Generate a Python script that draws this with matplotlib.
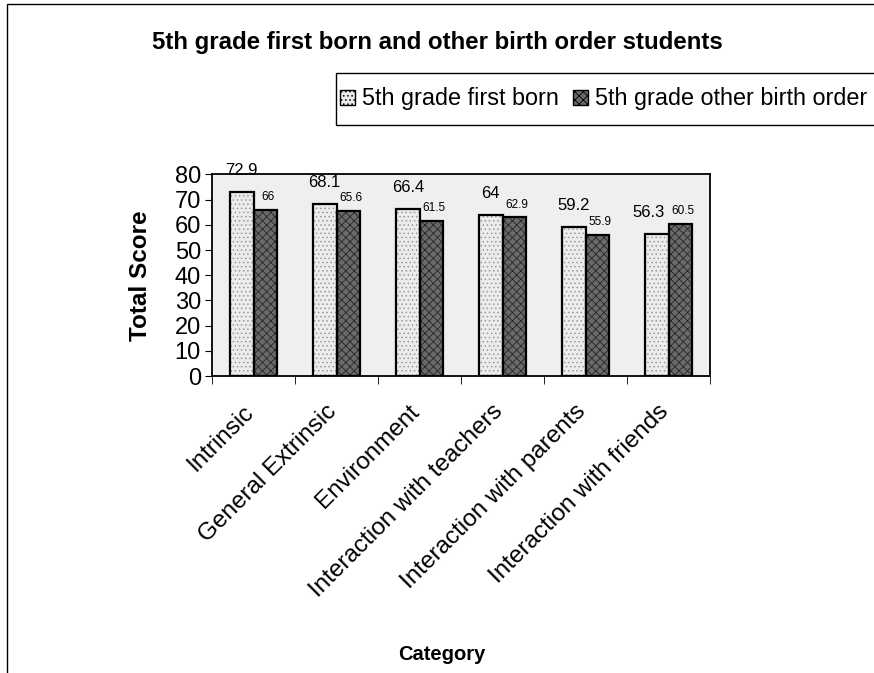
import matplotlib.pyplot as plt
import matplotlib.patches as mpatches
import matplotlib.transforms as mtransforms
import numpy as np

plt.rcParams['font.family'] = ['Liberation Sans', 'DejaVu Sans']
plt.rcParams['hatch.linewidth'] = 0.6

categories = ['Intrinsic', 'General Extrinsic', 'Environment', 'Interaction with teachers',
              'Interaction with parents', 'Interaction with friends']
first_born = [72.9, 68.1, 66.4, 64, 59.2, 56.3]
other_order = [66, 65.6, 61.5, 62.9, 55.9, 60.5]
yticks = [0, 10, 20, 30, 40, 50, 60, 70, 80]

fig = plt.figure(figsize=(8.74, 6.73), dpi=100)
# outer frame of the original figure (only left and top edges visible)
fig.patches.append(plt.Rectangle((0.008, -0.01), 1.2, 1.004, transform=fig.transFigure,
                                 fill=False, edgecolor='black', linewidth=1))

ax = fig.add_axes([0.2426, 0.441, 0.570, 0.300])
ax.set_facecolor('#efefef')

x = np.arange(len(categories))
w = 0.285
light = '#ececec'
dark = '#6a6a6a'
# textured fill layers
ax.bar(x - w / 2, first_born, w, color=light, edgecolor='#9a9a9a', linewidth=0, hatch='....')
ax.bar(x + w / 2, other_order, w, color=dark, edgecolor='#262626', linewidth=0, hatch='xxxx')
# black outlines
ax.bar(x - w / 2, first_born, w, fill=False, edgecolor='black', linewidth=1.6)
ax.bar(x + w / 2, other_order, w, fill=False, edgecolor='black', linewidth=1.6)

for i, v in enumerate(first_born):
    dx = -6 if i == len(first_born) - 1 else 0
    ax.annotate(f'{v:g}', (x[i] - w / 2, v), xytext=(dx, 10), textcoords='offset points',
                ha='center', va='bottom', fontsize=12)
for i, v in enumerate(other_order):
    ax.annotate(f'{v:g}', (x[i] + w / 2, v), xytext=(2, 5), textcoords='offset points',
                ha='center', va='bottom', fontsize=8.5)

ax.set_xlim(-0.5, len(categories) - 0.5)
ax.set_ylim(0, 80)
ax.set_yticks(yticks)
ax.tick_params(axis='y', labelsize=17, direction='out', length=5, pad=3)
ax.set_xticks(x)
ax.set_xticklabels(categories, rotation=45, ha='right', va='center_baseline',
                   rotation_mode='anchor', fontsize=17.5)
ax.set_xticks(np.arange(-0.5, len(categories)), minor=True)
ax.tick_params(axis='x', which='major', length=0, pad=22)
ax.tick_params(axis='x', which='minor', length=6, direction='out')
shift = mtransforms.ScaledTranslation(-5 / 100, 0, fig.dpi_scale_trans)
for lab in ax.get_xticklabels():
    lab.set_transform(lab.get_transform() + shift)
for s in ax.spines.values():
    s.set_linewidth(1.3)

ax.set_ylabel('Total Score', fontsize=17.5, fontweight='bold', labelpad=16)
fig.text(0.505, 0.027, 'Category', ha='center', va='center', fontsize=14.5, fontweight='bold')
fig.text(0.5, 0.937, '5th grade first born and other birth order students', ha='center',
         va='center', fontsize=17.3, fontweight='bold')

# legend box (extends past the right edge, as in the original)
fig.patches.append(plt.Rectangle((336 / 874, 1 - 125 / 673), 0.7, 52 / 673,
                                 transform=fig.transFigure, facecolor='white',
                                 edgecolor='black', linewidth=1))
handles = [mpatches.Patch(facecolor=light, edgecolor='black', hatch='....', linewidth=1),
           mpatches.Patch(facecolor=dark, edgecolor='black', hatch='xxxx', linewidth=1)]
leg = fig.legend(handles=handles, labels=['5th grade first born', '5th grade other birth order'],
                 loc='center left', bbox_to_anchor=(340 / 874, 1 - 99 / 673),
                 ncol=2, fontsize=16.8, frameon=False,
                 handlelength=0.65, handleheight=0.65, handletextpad=0.3, columnspacing=0.6,
                 borderpad=0, borderaxespad=0)

fig.savefig('out.png', dpi=100)
